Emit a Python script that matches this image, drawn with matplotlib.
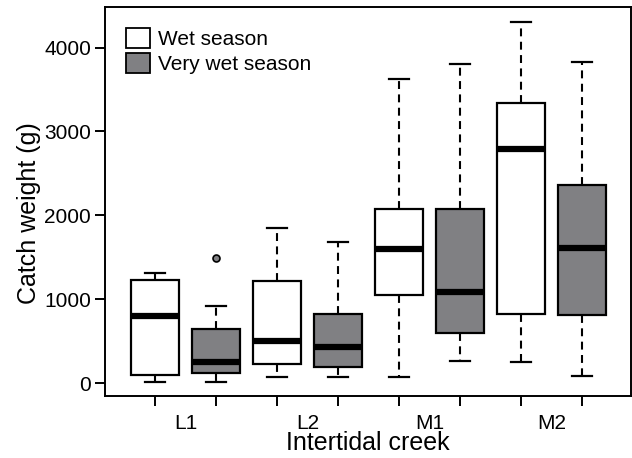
import matplotlib
matplotlib.use("Agg")
import matplotlib.pyplot as plt
from matplotlib.patches import Patch
from matplotlib.ticker import FixedLocator

plt.rcParams['font.family'] = ['Liberation Sans', 'DejaVu Sans']

# creek / season groups (g)
creeks = ["L1", "L2", "M1", "M2"]
seasons = ["Wet season", "Very wet season"]
whislo = [16, 8, 75, 72, 68, 259, 251, 84]
q1 = [92, 123, 227, 187, 1047, 593, 823, 808]
med = [800, 254, 497, 433, 1603, 1086, 2796, 1615]
q3 = [1229, 648, 1217, 823, 2080, 2072, 3341, 2363]
whishi = [1308, 919, 1850, 1679, 3624, 3807, 4308, 3831]
fliers = [[], [1495], [], [], [], [], [], []]

colors = ["white", "#808083"]

stats = []
for i in range(len(med)):
    stats.append(dict(whislo=whislo[i], q1=q1[i], med=med[i], q3=q3[i],
                      whishi=whishi[i], fliers=fliers[i]))

fig = plt.figure(figsize=(6.32, 4.58), dpi=100)
ax = fig.add_axes([0.166, 0.136, 0.832, 0.848])

pos = list(range(1, len(med) + 1))
bp = ax.bxp(stats, positions=pos, widths=0.8, patch_artist=True,
            boxprops=dict(edgecolor="black", linewidth=1.6),
            medianprops=dict(color="black", linewidth=4.5, solid_capstyle="butt"),
            whiskerprops=dict(color="black", linewidth=1.5, linestyle=(0, (3.8, 2.6))),
            capprops=dict(color="black", linewidth=1.6),
            capwidths=0.33,
            flierprops=dict(marker="o", markersize=5, markerfacecolor="#808083",
                            markeredgecolor="black", markeredgewidth=1.2))
for i, b in enumerate(bp["boxes"]):
    b.set_facecolor(colors[i % 2])

ax.set_xlim(0.18, 8.8)
ax.set_ylim(-151, 4480)

ax.set_yticks([0, 1000, 2000, 3000, 4000])
ax.set_xticks(pos)
ax.set_xticklabels([])
ax.xaxis.set_minor_locator(FixedLocator([1.5, 3.5, 5.5, 7.5]))
ax.set_xticklabels(creeks, minor=True)
ax.tick_params(axis="x", which="minor", length=0, pad=13, labelsize=15)
ax.tick_params(axis="both", which="major", length=7, width=1.4, labelsize=15,
               direction="out")
ax.tick_params(axis="y", pad=3)

for s in ax.spines.values():
    s.set_linewidth(1.4)

ax.set_xlabel("Intertidal creek", fontsize=18, labelpad=-1)
ax.set_ylabel("Catch weight (g)", fontsize=18)
ax.yaxis.set_label_coords(-0.121, 0.47)

handles = [Patch(facecolor=c, edgecolor="black", linewidth=1.3) for c in colors]
ax.legend(handles, seasons, loc="upper left", frameon=False, fontsize=15,
          handlelength=1.15, handleheight=1.1, handletextpad=0.4,
          labelspacing=0.2, borderaxespad=0.6, borderpad=0.4)

fig.savefig("out.png", dpi=100)
